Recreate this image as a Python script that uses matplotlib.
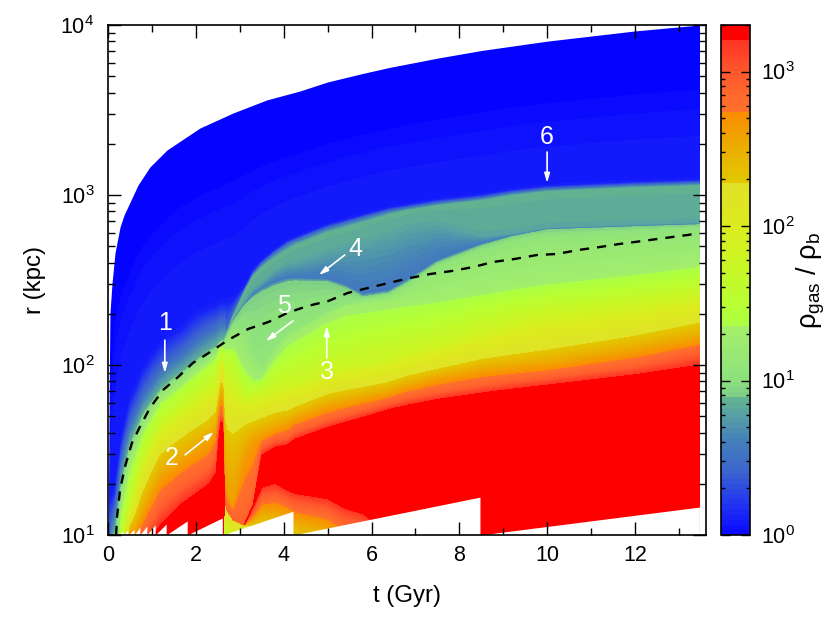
import matplotlib
matplotlib.use("Agg")
import matplotlib.pyplot as plt
import numpy as np
from matplotlib.cm import ScalarMappable
from matplotlib.colors import LinearSegmentedColormap, LogNorm
from matplotlib.ticker import LogLocator, MultipleLocator, NullFormatter

plt.rcParams["font.family"] = ["Liberation Sans", "DejaVu Sans"]
plt.rcParams["mathtext.fontset"] = "custom"
plt.rcParams["mathtext.rm"] = "Liberation Sans"
plt.rcParams["mathtext.it"] = "Liberation Sans"
plt.rcParams["mathtext.default"] = "regular"

# log10(rho_gas/rho_b) carried by each row of the table below
rho_levels = [1.5, 2.3, 3.3, 3.3, 2.9, 2.6, 2.2, 1.8, 1.5, 1.28, 1.08, 0.9, 0.55, 0.82, 0.87, 0.45, 0.1, -0.2]

# time of each column (Gyr)
t_cols = [0.03, 0.15, 0.22, 0.30, 0.40, 0.50, 0.65, 0.80, 1.0, 1.2, 1.45, 1.7, 2.0, 2.3, 2.46, 2.52, 2.57, 2.61,
          2.65, 2.7, 2.85, 3.1, 3.3, 3.5, 3.8, 4.1, 4.25, 5.0, 5.4, 5.8, 6.4, 6.8, 7.5, 8.5, 9.2, 10.0, 12.0, 13.47]

# log10(r/kpc) where each level sits, one list per time
logr_cols = [
    [.85, .85, .85, .85, .85, .85, .85, .85, .85, .85, .85, .85, .85, .85, .85, 1.0, 1.20, 2.15],
    [.85, .85, .85, .85, .85, .85, .85, .85, .85, .85, .85, 1.0, 1.0, 1.0, 1.0, 1.15, 1.265, 2.66],
    [.85, .85, .85, .85, .85, .85, .85, .85, .85, .85, 1.0, 1.135, 1.135, 1.135, 1.135, 1.265, 1.41, 2.75],
    [.85, .85, .85, .85, .85, .85, .85, .85, 1.03, 1.147, 1.218, 1.294, 1.294, 1.294, 1.294, 1.44, 1.559, 2.84],
    [.85, .85, .85, .85, .85, .85, .971, 1.047, 1.147, 1.276, 1.365, 1.418, 1.418, 1.418, 1.418, 1.553, 1.676, 2.905],
    [.85, .85, .85, .85, .85, 1.0, 1.059, 1.147, 1.265, 1.412, 1.488, 1.529, 1.529, 1.529, 1.529, 1.647, 1.794, 2.96],
    [.85, .85, .85, .85, .941, 1.029, 1.159, 1.294, 1.406, 1.506, 1.571, 1.618, 1.618, 1.618, 1.618, 1.735, 1.882, 3.045],
    [.85, .85, .85, .85, 1.0, 1.118, 1.28, 1.43, 1.53, 1.618, 1.67, 1.71, 1.71, 1.71, 1.71, 1.824, 1.971, 3.12],
    [.85, .85, .85, .941, 1.088, 1.224, 1.4, 1.535, 1.629, 1.706, 1.747, 1.782, 1.782, 1.782, 1.782, 1.9, 2.053, 3.185],
    [.85, .85, .85, 1.018, 1.176, 1.324, 1.5, 1.629, 1.724, 1.794, 1.829, 1.853, 1.853, 1.853, 1.853, 1.971, 2.118, 3.235],
    [.85, .85, .85, 1.082, 1.235, 1.376, 1.553, 1.682, 1.776, 1.841, 1.882, 1.912, 1.912, 1.912, 1.912, 2.029, 2.176, 3.30],
    [.85, .85, .85, 1.147, 1.294, 1.429, 1.6, 1.735, 1.829, 1.894, 1.935, 1.959, 1.959, 1.959, 1.959, 2.076, 2.218, 3.35],
    [.85, .85, .85, 1.206, 1.341, 1.482, 1.653, 1.794, 1.894, 1.959, 1.994, 2.024, 2.024, 2.024, 2.024, 2.147, 2.294, 3.39],
    [.85, .85, .85, 1.265, 1.394, 1.529, 1.706, 1.853, 1.959, 2.018, 2.053, 2.082, 2.082, 2.082, 2.082, 2.206, 2.335, 3.43],
    [.85, .85, .85, 1.324, 1.471, 1.606, 1.747, 1.888, 2.0, 2.053, 2.082, 2.106, 2.106, 2.106, 2.106, 2.224, 2.35, 3.445],
    [.85, .85, .85, 1.529, 1.629, 1.735, 1.829, 1.959, 2.047, 2.088, 2.112, 2.124, 2.124, 2.124, 2.124, 2.241, 2.36, 3.45],
    [.85, .85, .85, 1.647, 1.706, 1.794, 1.912, 2.018, 2.076, 2.112, 2.129, 2.141, 2.141, 2.141, 2.141, 2.253, 2.365, 3.46],
    [.85, .85, .85, 1.647, 1.706, 1.794, 1.912, 2.018, 2.076, 2.112, 2.129, 2.141, 2.141, 2.141, 2.141, 2.253, 2.368, 3.465],
    [.971, 1.22, 1.22, 1.22, 1.22, 1.324, 1.747, 1.924, 2.059, 2.1, 2.124, 2.147, 2.147, 2.147, 2.147, 2.259, 2.371, 3.47],
    [.924, 1.15, 1.15, 1.15, 1.15, 1.235, 1.676, 1.9, 2.053, 2.112, 2.153, 2.176, 2.188, 2.188, 2.188, 2.2, 2.371, 3.48],
    [.88, 1.09, 1.09, 1.09, 1.09, 1.176, 1.647, 1.882, 2.041, 2.118, 2.206, 2.253, 2.265, 2.276, 2.288, 2.3, 2.382, 3.49],
    [.794, 1.06, 1.06, 1.06, 1.06, 1.45, 1.676, 1.794, 1.882, 2.0, 2.206, 2.347, 2.359, 2.382, 2.424, 2.435, 2.453, 3.52],
    [.85, 1.059, 1.176, 1.176, 1.176, 1.547, 1.688, 1.806, 1.865, 1.924, 2.076, 2.394, 2.412, 2.453, 2.518, 2.535, 2.553, 3.535],
    [.85, 1.06, 1.30, 1.453, 1.512, 1.576, 1.706, 1.824, 1.882, 1.924, 2.0, 2.429, 2.453, 2.488, 2.571, 2.594, 2.612, 3.55],
    [.85, 1.05, 1.324, 1.5, 1.559, 1.618, 1.735, 1.853, 1.959, 2.053, 2.1, 2.465, 2.488, 2.559, 2.629, 2.659, 2.676, 3.575],
    [.85, 1.04, 1.282, 1.518, 1.571, 1.647, 1.747, 1.882, 2.018, 2.147, 2.194, 2.488, 2.512, 2.606, 2.676, 2.712, 2.729, 3.595],
    [.85, 1.0, 1.265, 1.547, 1.606, 1.676, 1.765, 1.882, 2.029, 2.176, 2.206, 2.494, 2.512, 2.606, 2.7, 2.729, 2.747, 3.605],
    [.85, .941, 1.235, 1.618, 1.676, 1.747, 1.841, 1.959, 2.118, 2.294, 2.312, 2.488, 2.506, 2.676, 2.776, 2.806, 2.824, 3.665],
    [.85, .85, 1.18, 1.647, 1.706, 1.771, 1.865, 1.982, 2.147, 2.34, 2.353, 2.453, 2.471, 2.706, 2.806, 2.835, 2.853, 3.69],
    [.85, .85, 1.147, 1.676, 1.735, 1.794, 1.882, 2.0, 2.176, 2.353, 2.382, 2.4, 2.418, 2.735, 2.835, 2.865, 2.882, 3.715],
    [.85, .85, 1.029, 1.724, 1.776, 1.829, 1.912, 2.029, 2.206, 2.371, 2.4, 2.424, 2.441, 2.782, 2.882, 2.906, 2.924, 3.75],
    [.85, .85, .85, 1.747, 1.806, 1.865, 1.947, 2.065, 2.229, 2.388, 2.459, 2.482, 2.5, 2.824, 2.906, 2.924, 2.941, 3.77],
    [.85, .85, .85, 1.782, 1.841, 1.912, 1.988, 2.118, 2.265, 2.406, 2.571, 2.6, 2.618, 2.841, 2.935, 2.953, 2.971, 3.805],
    [.85, .85, .85, 1.818, 1.882, 1.959, 2.047, 2.194, 2.335, 2.441, 2.665, 2.7, 2.712, 2.765, 2.965, 2.982, 3.0, 3.85],
    [.85, .85, .85, 1.841, 1.906, 1.976, 2.076, 2.247, 2.371, 2.471, 2.718, 2.753, 2.759, 2.776, 2.994, 3.012, 3.029, 3.88],
    [.85, .85, .85, 1.865, 1.929, 1.994, 2.106, 2.294, 2.4, 2.5, 2.747, 2.794, 2.8, 2.812, 3.018, 3.035, 3.053, 3.905],
    [.85, .85, .85, 1.924, 1.994, 2.076, 2.188, 2.347, 2.453, 2.559, 2.776, 2.812, 2.818, 2.829, 3.041, 3.059, 3.076, 3.965],
    [.85, .85, .85, 1.971, 2.076, 2.147, 2.265, 2.406, 2.5, 2.606, 2.794, 2.824, 2.829, 2.841, 3.053, 3.071, 3.088, 4.0],
]

# outer edge of the grid
outer_t = [0.0, 0.02, 0.04, 0.087, 0.155, 0.27, 0.36, 0.50, 0.68, 0.95, 1.34, 2.09, 2.84, 3.61, 4.37,
           5.0, 5.8, 6.4, 7.5, 8.5, 10.0, 12.0, 13.47, 13.62]
outer_logr = [1.0, 1.79, 2.306, 2.482, 2.659, 2.812, 2.882, 2.959, 3.059, 3.165, 3.265, 3.394, 3.482, 3.559, 3.612,
              3.665, 3.715, 3.75, 3.805, 3.85, 3.905, 3.965, 4.0, 4.0]

# inner edge of the grid: saw teeth that reset at each refinement
inner_t = [0.18, 0.22, 0.22, 0.34, 0.34, 0.45, 0.45, 0.59, 0.59, 0.72, 0.72, 0.88, 0.88, 1.07, 1.07,
           1.32, 1.32, 1.80, 1.80, 2.60, 2.60, 4.21, 4.21, 8.47, 8.47, 13.47]
inner_r = [10.0, 10.3, 10.0, 10.6, 10.0, 10.7, 10.0, 10.8, 10.0, 11.1, 10.0, 11.3, 10.0, 11.5, 10.0,
           11.6, 10.0, 12.1, 10.0, 12.6, 10.0, 13.8, 10.0, 16.7, 10.0, 14.6]

# dashed virial radius
vir_t = [0.18, 0.20, 0.27, 0.38, 0.54, 0.72, 0.95, 1.25, 1.59, 1.93, 2.32, 2.73, 3.19, 3.65, 4.08, 4.54, 5.01,
         5.46, 5.92, 6.38, 6.88, 7.33, 7.83, 8.31, 8.77, 9.27, 9.77, 10.22, 10.70, 11.2, 11.65, 12.16, 12.68, 13.21, 13.46]
vir_logr = [1.0, 1.106, 1.265, 1.40, 1.541, 1.635, 1.747, 1.853, 1.929, 2.012, 2.076, 2.147, 2.212, 2.253, 2.306, 2.347, 2.376,
            2.424, 2.453, 2.482, 2.512, 2.535, 2.553, 2.576, 2.606, 2.624, 2.647, 2.653, 2.676, 2.694, 2.712, 2.729, 2.747, 2.765, 2.776]

# numbered white arrows
note_labels = ["1", "2", "3", "4", "5", "6"]
note_text_t = [1.29, 1.45, 4.98, 5.64, 4.00, 10.0]
note_text_r = [177, 28.4, 91, 481, 222, 2193]
note_tail_t = [1.29, 1.75, 4.98, 5.39, 4.21, 10.0]
note_tail_r = [140, 29.6, 110, 444, 182, 1791]
note_head_t = [1.29, 2.41, 4.98, 4.80, 3.59, 10.0]
note_head_r = [89.7, 40.4, 169.6, 338, 138, 1177]

# colour table, position along log10(rho) from 0 to top, steps are repeated positions
log_top = np.log10(2000)
cmap_knots = [
    (0.00, (10, 10, 255)), (0.20, (35, 55, 240)), (0.40, (60, 100, 205)),
    (0.60, (68, 128, 185)), (0.80, (90, 165, 160)), (0.885, (100, 180, 140)),
    (0.885, (125, 205, 135)), (1.00, (140, 225, 125)), (1.35, (165, 240, 105)), (1.35, (170, 255, 70)),
    (1.50, (185, 255, 50)), (1.80, (205, 245, 35)), (2.00, (220, 235, 30)), (2.29, (225, 225, 40)),
    (2.29, (225, 200, 0)), (2.50, (235, 175, 0)), (2.74, (250, 140, 0)), (2.74, (255, 115, 45)),
    (3.00, (255, 90, 45)), (3.226, (255, 50, 35)), (3.226, (255, 0, 0)), (log_top, (255, 0, 0)),
]
gas_cmap = LinearSegmentedColormap.from_list(
    "gas", [(p / log_top, tuple(c / 255 for c in col)) for p, col in cmap_knots], N=100)
gas_cmap.set_under((0.012, 0.012, 1))

fig = plt.figure(figsize=(8.30, 6.23), dpi=100)
ax = fig.add_axes([108.2 / 830, 88 / 623, 597.8 / 830, 510 / 623])
cax = fig.add_axes([721 / 830, 88 / 623, 29 / 830, 510 / 623])

# one more row above the outer edge so the white mask can cut the curve
logr_table = np.array(logr_cols)
logr_table = np.hstack([logr_table, np.full((len(t_cols), 1), 4.4)])
level_row = np.array(rho_levels + [rho_levels[-1]])
T = np.array(t_cols)[:, None] * np.ones((1, len(level_row)))
R = 10.0 ** logr_table
Z = level_row[None, :] * np.ones((len(t_cols), 1))

ax.set_yscale("log")
ax.contourf(T, R, Z, levels=np.linspace(0, log_top, 101), cmap=gas_cmap, vmin=0, vmax=log_top, extend="min")
ax.fill_between(outer_t, 10.0 ** np.array(outer_logr), 3e4, color="white", lw=0, zorder=1.5)
ax.fill_between(inner_t, 5, inner_r, color="white", lw=0, zorder=1.5)
ax.plot(vir_t, 10.0 ** np.array(vir_logr), color="black", lw=1.7, ls=(0, (3.9, 3.4)), zorder=3)

for i in range(len(note_labels)):
    ax.annotate("", xy=(note_head_t[i], note_head_r[i]), xytext=(note_tail_t[i], note_tail_r[i]),
                arrowprops=dict(arrowstyle="-|>,head_length=0.55,head_width=0.16", color="white", lw=1.2,
                                shrinkA=0, shrinkB=0), zorder=4)
    ax.text(note_text_t[i], note_text_r[i], note_labels[i], color="white", fontsize=18,
            ha="center", va="center", zorder=4)

ax.set_xlim(0, 13.62)
ax.set_ylim(10, 1e4)
ax.xaxis.set_major_locator(MultipleLocator(2))
ax.xaxis.set_minor_locator(MultipleLocator(1))
ax.yaxis.set_minor_locator(LogLocator(base=10, subs=np.arange(2, 10), numticks=12))
ax.yaxis.set_minor_formatter(NullFormatter())
ax.tick_params(which="major", direction="in", top=True, right=True, length=9.5, width=1.0, labelsize=15.5)
ax.tick_params(axis="x", which="major", pad=7)
ax.tick_params(axis="y", which="major", pad=10)
ax.tick_params(which="minor", direction="in", top=True, right=True, length=5, width=1.0)
ax.set_xlabel("t (Gyr)", fontsize=17.3, labelpad=14)
ax.set_ylabel("r (kpc)", fontsize=17.3, labelpad=10)
for s in ax.spines.values():
    s.set_linewidth(1.2)
    s.set_zorder(5)

cb = fig.colorbar(ScalarMappable(LogNorm(1, 2000), gas_cmap), cax=cax)
cax.yaxis.set_minor_locator(LogLocator(base=10, subs=np.arange(2, 10), numticks=12))
cax.yaxis.set_minor_formatter(NullFormatter())
cax.tick_params(which="major", direction="in", left=True, right=True, length=6.5, width=1.0, labelsize=15.5, pad=8)
cax.tick_params(which="minor", direction="in", left=True, right=True, length=2.8, width=1.0)
cb.set_label(r"$\rho_{gas}$ / $\rho_{b}$", fontsize=19.5, labelpad=0)
cb.outline.set_linewidth(1.2)

plt.savefig("out.png", dpi=100)
